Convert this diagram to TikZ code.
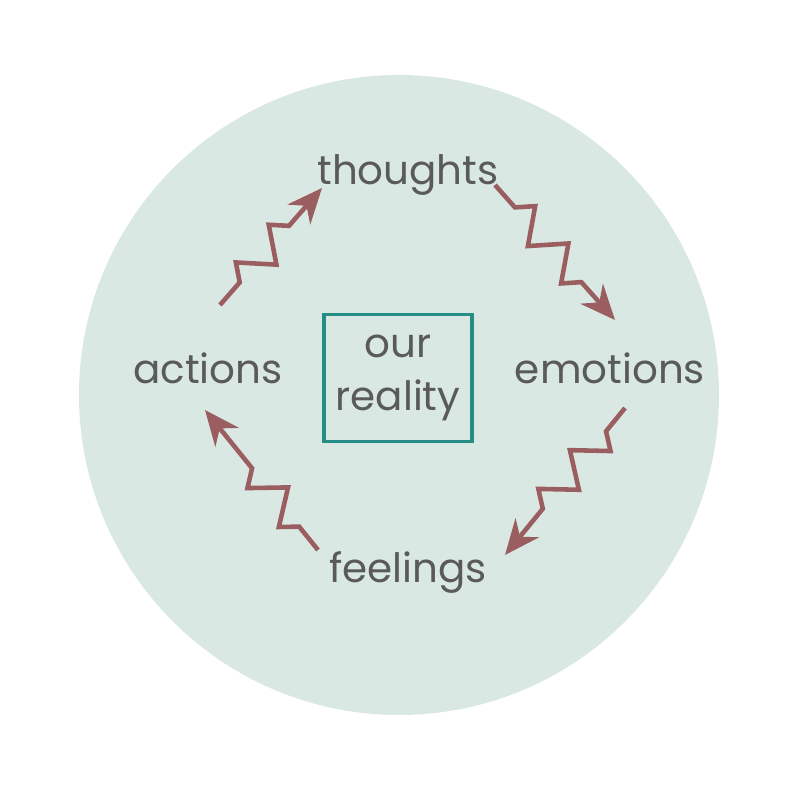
\documentclass[tikz,border=0pt]{standalone}
\usepackage{fontspec}
\setmainfont{Poppins}
\usetikzlibrary{positioning,arrows.meta,decorations.pathmorphing}
\definecolor{bgmint}{HTML}{D9E8E3}
\definecolor{arrowred}{HTML}{9B5E60}
\definecolor{textgray}{HTML}{5A5A5A}
\definecolor{boxteal}{HTML}{268C86}
\begin{document}
\begin{tikzpicture}[
    stepword/.style={text=textgray, font=\fontsize{11.5}{14}\selectfont},
    realitybox/.style={draw=boxteal, line width=1pt, minimum width=1.47cm, minimum height=1.27cm, align=center, text=textgray, font=\fontsize{11.5}{15}\selectfont},
    zigarrow/.style={draw=arrowred, line width=1.3pt, -{Stealth[length=3.5mm,width=3mm]},
        decorate, decoration={zigzag, amplitude=1.6mm, segment length=5mm, pre length=3mm, post length=5mm}},
    ]
    \useasboundingbox (0,0) rectangle (8,8);
    %Background
    \fill[bgmint] (3.99,4.05) circle (3.2);
    %Nodes
    \node[realitybox] (reality) at (3.98,4.22) {our\\reality};
    \node[stepword] (thoughts) at (4.08,6.25) {thoughts};
    \node[stepword] (emotions) at (6.10,4.32) {emotions};
    \node[stepword] (feelings) at (4.08,2.27) {feelings};
    \node[stepword] (actions)  at (2.08,4.32) {actions};
    %Arrow ends
    \coordinate (t2e-a) at (4.95,6.15);
    \coordinate (t2e-b) at (6.15,4.80);
    \coordinate (e2f-a) at (6.25,3.92);
    \coordinate (e2f-b) at (5.05,2.45);
    \coordinate (f2a-a) at (3.18,2.50);
    \coordinate (f2a-b) at (2.05,3.90);
    \coordinate (a2t-a) at (2.20,4.95);
    \coordinate (a2t-b) at (3.22,6.12);
    %Lines
    \draw[zigarrow] (t2e-a) -- (t2e-b);
    \draw[zigarrow] (e2f-a) -- (e2f-b);
    \draw[zigarrow] (f2a-a) -- (f2a-b);
    \draw[zigarrow] (a2t-a) -- (a2t-b);
\end{tikzpicture}
\end{document}
